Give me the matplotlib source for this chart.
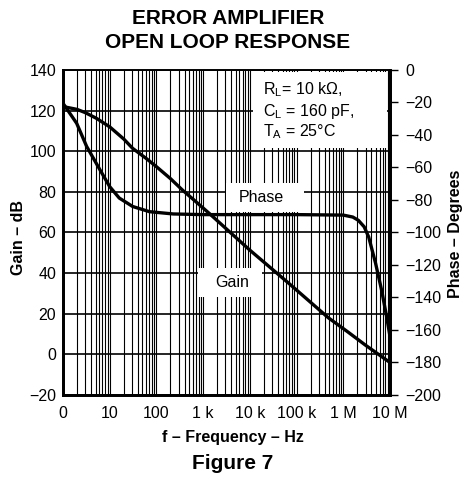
import numpy as np
import matplotlib.pyplot as plt
from matplotlib.patches import Rectangle
from matplotlib.ticker import LogLocator, NullFormatter

plt.rcParams['font.family'] = ['Liberation Sans', 'DejaVu Sans']

# values
freq_gain = [1, 2, 3, 5.2, 10, 20, 31, 60, 100, 200, 360, 600, 1350, 1e4, 6.8e4, 4.8e5, 1.26e6, 3e6, 1e7]
gain_db = [122, 120.6, 119, 116.2, 112, 106, 101.4, 96.5, 92.4, 86.5, 80.9, 76.5, 69.4, 51.3, 35, 18, 11, 4.5, -4]

freq_phase = [1, 1.96, 3.2, 6.2, 10, 16, 31, 71, 230, 1e3, 1e4, 1e5, 1e6, 1.6e6, 2.1e6, 2.8e6,
              3.5e6, 4.9e6, 6.6e6, 8.5e6, 1e7]
phase_deg = [-20.5, -32.8, -47, -61.5, -71.8, -78.8, -84, -87.2, -88.6, -89, -89, -89, -89.3, -90.5,
             -92.5, -96.5, -102.8, -118.8, -135.4, -152, -164]

freq_ticks = [1, 10, 100, 1e3, 1e4, 1e5, 1e6, 1e7]
freq_labels = ['0', '10', '100', '1 k', '10 k', '100 k', '1 M', '10 M']
gain_ticks = list(range(-20, 141, 20))
phase_ticks = list(range(-200, 1, 20))

fig = plt.figure(figsize=(4.65, 4.84), dpi=100)
ax = fig.add_axes([0.1355, 0.1839, 0.7032, 0.6715])
ax.set_xscale('log')
ax.set_xlim(1, 1e7)
ax.set_ylim(-20, 140)
ax.set_xticks(freq_ticks, freq_labels)
ax.xaxis.set_minor_locator(LogLocator(base=10, subs=range(2, 10), numticks=100))
ax.xaxis.set_minor_formatter(NullFormatter())
ax.set_yticks(gain_ticks)
ax.tick_params(axis='x', which='both', length=0, labelsize=11.5, pad=8)
ax.tick_params(axis='y', length=0, labelsize=11.5, pad=5)
ax.plot(freq_gain, gain_db, color='black', lw=2.4, zorder=4)

# grid: every 1..9 per decade vertically, every 20 dB horizontally
ax.xaxis.grid(True, which='both', color='black', linewidth=0.8)
for g in gain_ticks:
    ax.axhline(g, color='black', lw=1.2, zorder=2)

ax2 = ax.twinx()
ax2.set_ylim(-200, 0)
ax2.set_yticks(phase_ticks)
ax2.tick_params(axis='y', direction='out', length=6, width=1, labelsize=11.5, pad=5)
ax2.plot(freq_phase, phase_deg, color='black', lw=2.4, zorder=4)

for a in (ax, ax2):
    for s in ('left', 'bottom', 'right'):
        a.spines[s].set_linewidth(2)
    a.spines['top'].set_linewidth(1.2)

# white label boxes
ax2.add_patch(Rectangle((0.581, 0.76), 0.41, 0.234, transform=ax2.transAxes,
                        fc='white', ec='none', zorder=3))
ax2.text(0.612, 0.967, 'R$_\\mathregular{L}$= 10 kΩ,\nC$_\\mathregular{L}$ = 160 pF,\nT$_\\mathregular{A}$ = 25°C',
         transform=ax2.transAxes, ha='left', va='top', fontsize=11.5, linespacing=1.15, zorder=5)

ax2.add_patch(Rectangle((0.498, 0.562), 0.24, 0.089, transform=ax2.transAxes,
                        fc='white', ec='none', zorder=3))
ax2.text(0.608, 0.608, 'Phase', transform=ax2.transAxes, ha='center', va='center', fontsize=11.5, zorder=5)

ax2.add_patch(Rectangle((0.413, 0.302), 0.196, 0.089, transform=ax2.transAxes,
                        fc='white', ec='none', zorder=3))
ax2.text(0.517, 0.347, 'Gain', transform=ax2.transAxes, ha='center', va='center', fontsize=11.5, zorder=5)

fig.text(0.49, 0.937, 'ERROR AMPLIFIER\nOPEN LOOP RESPONSE', ha='center', va='center',
         fontsize=15, fontweight='bold', linespacing=1.3)
fig.text(0.501, 0.097, 'f – Frequency – Hz', ha='center', va='center', fontsize=11.5, fontweight='bold')
fig.text(0.501, 0.043, 'Figure 7', ha='center', va='center', fontsize=15, fontweight='bold')
fig.text(0.039, 0.51, 'Gain – dB', ha='center', va='center', rotation=90, fontsize=11.5, fontweight='bold')
fig.text(0.979, 0.517, 'Phase – Degrees', ha='center', va='center', rotation=90, fontsize=11.5, fontweight='bold')

fig.savefig('out.png', dpi=100)
